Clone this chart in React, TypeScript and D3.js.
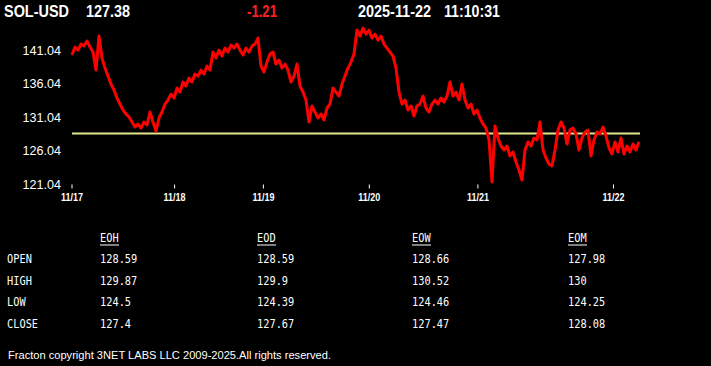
import React from 'react';
import * as d3 from 'd3';

const symbol = 'SOL-USD';
const lastPrice = '127.38';
const change = '-1.21';
const dateStr = '2025-11-22';
const timeStr = '11:10:31';

const prices = [
  140.29, 141.48, 141.03, 141.92, 141.62, 142.37, 141.48, 140.73, 138.05, 143.11,
  139.84, 138.35, 137.16, 135.97, 135.08, 133.89, 132.99, 132.10, 131.51, 131.06,
  130.32, 129.57, 130.02, 129.42, 130.32, 129.87, 131.80, 130.32, 128.98, 130.91,
  131.80, 132.99, 133.59, 134.48, 133.89, 135.37, 134.78, 136.27, 135.67, 136.86,
  136.27, 137.46, 137.16, 138.05, 137.46, 138.65, 138.05, 140.73, 139.84, 141.03,
  140.14, 141.33, 140.73, 141.77, 141.33, 141.92, 141.03, 140.29, 141.33, 140.73,
  141.62, 141.92, 142.82, 138.65, 137.76, 139.24, 140.43, 140.73, 138.95, 139.54,
  138.35, 138.95, 138.05, 136.27, 137.16, 138.95, 135.67, 134.78, 133.59, 130.32,
  132.70, 131.80, 130.91, 131.51, 130.61, 132.40, 132.99, 135.37, 134.78, 134.18,
  135.97, 137.16, 138.35, 139.24, 140.43, 144.01, 143.11, 144.30, 143.41, 144.01,
  142.82, 143.41, 142.52, 143.11, 141.92, 141.33, 140.73, 140.14, 138.35, 134.78,
  132.99, 133.59, 132.10, 132.70, 131.21, 132.70, 132.99, 134.18, 132.40, 131.80,
  132.99, 133.59, 132.99, 133.89, 133.29, 134.18, 136.27, 134.18, 134.78, 133.59,
  135.97, 133.59, 132.40, 132.99, 131.51, 132.10, 130.91, 130.02, 129.42, 127.64,
  121.39, 129.72, 127.93, 126.74, 126.15, 126.74, 125.26, 125.85, 124.36, 123.17,
  121.68, 126.15, 127.34, 126.74, 127.93, 127.64, 130.32, 126.15, 124.96, 124.07,
  123.77, 126.15, 129.12, 130.32, 129.42, 127.04, 129.12, 129.42, 128.53, 126.15,
  127.93, 128.83, 129.12, 125.26, 127.64, 128.83, 128.53, 129.57, 128.23, 126.45,
  125.55, 127.34, 125.85, 127.93, 125.55, 126.74, 125.85, 127.04, 126.15, 127.38,
];

const refLevel = 128.59;

const yTickValues = [121.04, 126.04, 131.04, 136.04, 141.04];
const xTickIndex = [0, 34.2, 63.8, 99.1, 135.3, 180.5];
const xTickLabels = ['11/17', '11/18', '11/19', '11/20', '11/21', '11/22'];

const tableCols = ['EOH', 'EOD', 'EOW', 'EOM'];
const rowLabels = ['OPEN', 'HIGH', 'LOW', 'CLOSE'];
const eohValues = [128.59, 129.87, 124.5, 127.4];
const eodValues = [128.59, 129.9, 124.39, 127.67];
const eowValues = [128.66, 130.52, 124.46, 127.47];
const eomValues = [127.98, 130, 124.25, 128.08];
const copyright = 'Fracton copyright 3NET LABS LLC 2009-2025.All rights reserved.';

const W = 711;
const H = 366;

export default function App() {
  React.useEffect(() => {
    document.body.style.margin = '0';
    document.body.style.background = '#000';
  }, []);

  const x = d3.scaleLinear().domain([0, prices.length - 1]).range([72, 639]);
  const y = d3.scaleLinear().domain([121.04, 141.04]).range([184.3, 50]);
  const line = d3
    .line<number>()
    .x((_, i) => x(i))
    .y((d) => y(d));

  const tableData = [eohValues, eodValues, eowValues, eomValues];
  const colX = [100, 257, 412, 568];
  const rowY = [263, 285, 306, 328];

  const sans = "'Liberation Sans', Arial, sans-serif";
  const mono = "'DejaVu Sans Mono', 'Liberation Mono', monospace";

  const header = [
    { t: symbol, x: 4, w: 65, c: '#fff' },
    { t: lastPrice, x: 86, w: 44, c: '#fff' },
    { t: change, x: 247, w: 30, c: '#ff2020' },
    { t: dateStr, x: 358, w: 73, c: '#fff' },
    { t: timeStr, x: 444, w: 56, c: '#fff' },
  ];

  const monoText = (s: string, tx: number, ty: number, key: string) => (
    <text key={key} transform={`translate(${tx},${ty}) scale(0.86,1)`}>{s}</text>
  );

  return (
    <svg
      width={W}
      height={H}
      style={{ position: 'absolute', left: 0, top: 0, background: '#000', display: 'block' }}
    >
      <rect x={0} y={0} width={W} height={H} fill="#000" />
      {/* header */}
      <g fontFamily={sans} fontWeight="bold" fontSize={17} >
        {header.map((h) => (
          <text key={h.t} x={h.x} y={17} fill={h.c} textLength={h.w} lengthAdjust="spacingAndGlyphs">
            {h.t}
          </text>
        ))}
      </g>

      {/* y axis labels */}
      <g fontFamily={sans} fontSize={12.6} fill="#fff" textAnchor="end">
        {yTickValues.map((v) => (
          <text key={v} x={61} y={y(v)} dy="0.36em">{v.toFixed(2)}</text>
        ))}
      </g>

      {/* x axis ticks */}
      <g>
        {xTickIndex.map((t, i) => (
          <g key={i}>
            <line x1={x(t)} x2={x(t)} y1={184.5} y2={188.5} stroke="#fff" strokeWidth={1} />
            <text
              x={x(t) - 11}
              y={201}
              fill="#fff"
              fontFamily={sans}
              fontWeight="bold"
              fontSize={10}
              textLength={22}
              lengthAdjust="spacingAndGlyphs"
            >
              {xTickLabels[i]}
            </text>
          </g>
        ))}
      </g>

      {/* reference level */}
      <line
        x1={x(0)}
        x2={x(prices.length - 1) + 1}
        y1={y(refLevel)}
        y2={y(refLevel)}
        stroke="#dfe68c"
        strokeWidth={2}
      />

      {/* price line */}
      <path d={line(prices) || ''} fill="none" stroke="#ff0000" strokeWidth={3} strokeLinejoin="round" />

      {/* table */}
      <g fontFamily={mono} fontSize={12} fill="#fff">
        {tableCols.map((c, i) => (
          <g key={c}>
            {monoText(c, colX[i], 242, 'h' + c)}
            <line x1={colX[i]} x2={colX[i] + 19} y1={245} y2={245} stroke="#fff" strokeWidth={1} />
          </g>
        ))}
        {rowLabels.map((r, j) => monoText(r, 7, rowY[j], 'r' + r))}
        {tableData.map((col, i) =>
          col.map((v, j) => monoText(String(v), colX[i], rowY[j], i + '-' + j))
        )}
      </g>

      <text x={8} y={359} fontFamily={sans} fontSize={11} fill="#fff" textLength={323} lengthAdjust="spacingAndGlyphs">
        {copyright}
      </text>
    </svg>
  );
}
